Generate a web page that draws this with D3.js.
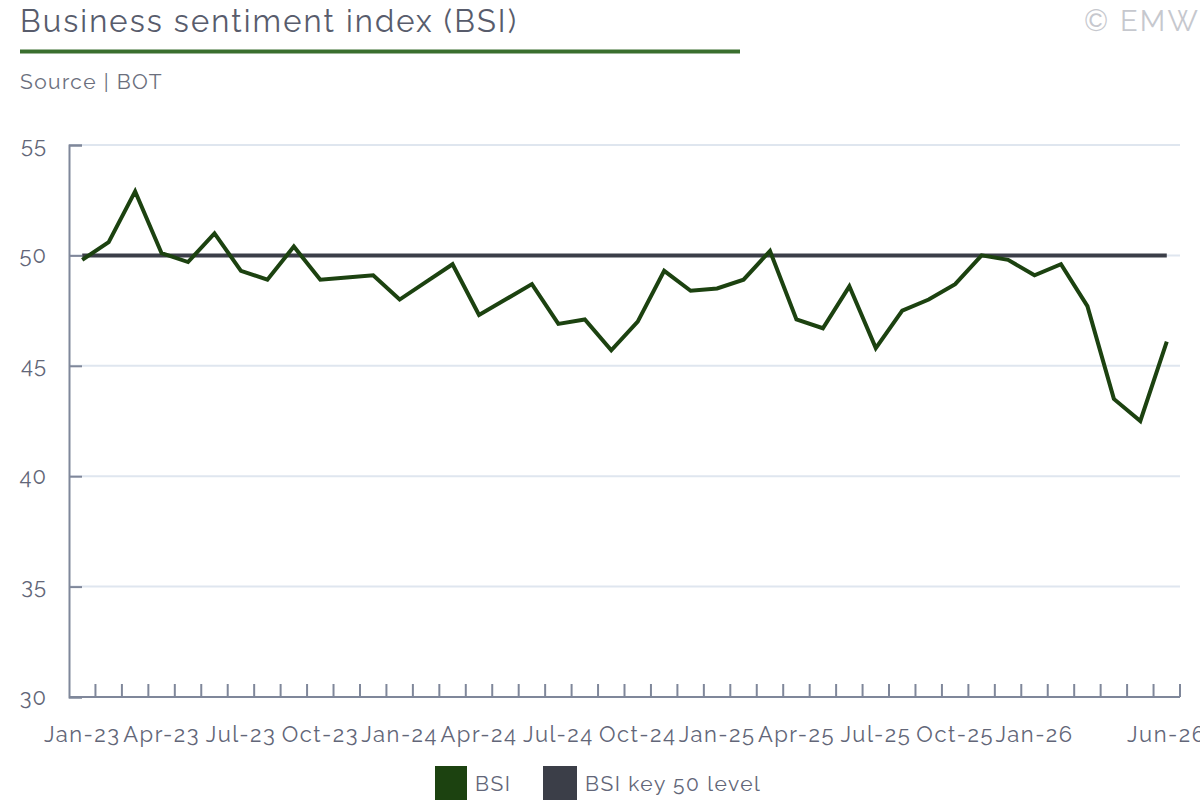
<!DOCTYPE html>
<html>
<head>
<meta charset="utf-8">
<script src="https://cdn.jsdelivr.net/npm/d3@7/dist/d3.min.js"></script>
<style>
  html, body { margin: 0; padding: 0; background: #ffffff; }
  svg { display: block; }
  text { font-family: "Raleway", "Lato", "Open Sans", sans-serif; }
</style>
</head>
<body>
<svg id="chart" width="1200" height="800"></svg>
<script>
// ---- data ----
const months = ["Jan-23","Feb-23","Mar-23","Apr-23","May-23","Jun-23","Jul-23","Aug-23","Sep-23","Oct-23","Nov-23","Dec-23",
                "Jan-24","Feb-24","Mar-24","Apr-24","May-24","Jun-24","Jul-24","Aug-24","Sep-24","Oct-24","Nov-24","Dec-24",
                "Jan-25","Feb-25","Mar-25","Apr-25","May-25","Jun-25","Jul-25","Aug-25","Sep-25","Oct-25","Nov-25","Dec-25",
                "Jan-26","Feb-26","Mar-26","Apr-26","May-26","Jun-26"];
const bsi = [49.8, 50.6, 52.9, 50.1, 49.7, 51.0, 49.3, 48.9, 50.4, 48.9, 49.0, 49.1,
             48.0, 48.8, 49.6, 47.3, 48.0, 48.7, 46.9, 47.1, 45.7, 47.0, 49.3, 48.4,
             48.5, 48.9, 50.2, 47.1, 46.7, 48.6, 45.8, 47.5, 48.0, 48.7, 50.0, 49.8,
             49.1, 49.6, 47.7, 43.5, 42.5, 46.1];
const keyLevel = [50,50,50,50,50,50,50,50,50,50,50,50,
                  50,50,50,50,50,50,50,50,50,50,50,50,
                  50,50,50,50,50,50,50,50,50,50,50,50,
                  50,50,50,50,50,50];
const xTickLabels = ["Jan-23","Apr-23","Jul-23","Oct-23","Jan-24","Apr-24","Jul-24","Oct-24","Jan-25","Apr-25","Jul-25","Oct-25","Jan-26","Jun-26"];
const yTicks = [30, 35, 40, 45, 50, 55];
const seriesNames = ["BSI", "BSI key 50 level"];

// ---- styles ----
const cGreen = "#1c4210";
const cKey = "#3b3e48";
const cAxis = "#7f879a";
const cGrid = "#dfe6ef";
const cText = "#626678";
const fontStack = '"Raleway", "Lato", "Open Sans", sans-serif';

const svg = d3.select("#chart");

const x = d3.scaleBand().domain(months).range([69, 1180]).padding(0);
const y = d3.scaleLinear().domain([30, 55]).range([697, 145]);
const cx = m => x(m) + x.bandwidth() / 2;

// title block
svg.append("text").attr("x", 20).attr("y", 32)
  .attr("font-size", 31).attr("letter-spacing", 2.1).attr("fill", "#585c6c").text("Business sentiment index (BSI)");
svg.append("rect").attr("x", 20).attr("y", 49.5).attr("width", 720).attr("height", 4).attr("fill", "#3a6f2e");
svg.append("text").attr("x", 20).attr("y", 89)
  .attr("font-size", 21).attr("letter-spacing", 1.4).attr("fill", "#6b6f7d").text("Source | BOT");
svg.append("text").attr("x", 1200).attr("y", 31).attr("text-anchor", "end")
  .attr("font-size", 29).attr("letter-spacing", 2.2).attr("fill", "#c6c8ce").text("© EMW");

// gridlines
svg.append("g").selectAll("line").data(yTicks.filter(v => v > 30)).join("line")
  .attr("x1", 69).attr("x2", 1180)
  .attr("y1", d => y(d)).attr("y2", d => y(d))
  .attr("stroke", cGrid).attr("stroke-width", 2);

// y axis
const yAxis = svg.append("g").attr("transform", "translate(69,0)")
  .call(d3.axisLeft(y).tickValues(yTicks).tickSize(-13).tickPadding(22).tickFormat(d3.format("d")));
yAxis.select(".domain").attr("stroke", cAxis).attr("stroke-width", 2);
yAxis.selectAll(".tick line").attr("stroke", cAxis).attr("stroke-width", 2);
yAxis.selectAll(".tick text").attr("fill", cText).attr("font-size", 22).attr("letter-spacing", 1)
  .attr("font-family", fontStack);

// x axis line + boundary ticks
svg.append("line").attr("x1", 69).attr("x2", 1180).attr("y1", y(30)).attr("y2", y(30))
  .attr("stroke", cAxis).attr("stroke-width", 2);
svg.append("g").selectAll("line").data(months).join("line")
  .attr("x1", d => x(d) + x.bandwidth()).attr("x2", d => x(d) + x.bandwidth())
  .attr("y1", y(30)).attr("y2", y(30) - 13)
  .attr("stroke", cAxis).attr("stroke-width", 2);
svg.append("g").selectAll("text").data(xTickLabels).join("text")
  .attr("x", d => cx(d)).attr("y", 742)
  .attr("text-anchor", "middle").attr("font-size", 22).attr("letter-spacing", 1.5).attr("fill", cText)
  .text(d => d);

// lines
const line = d3.line().x(d => cx(d.m)).y(d => y(d.v));
svg.append("path").datum(months.map((m, i) => ({ m, v: keyLevel[i] })))
  .attr("d", line).attr("fill", "none").attr("stroke", cKey).attr("stroke-width", 4);
svg.append("path").datum(months.map((m, i) => ({ m, v: bsi[i] })))
  .attr("d", line).attr("fill", "none").attr("stroke", cGreen).attr("stroke-width", 4)
  .attr("stroke-linejoin", "miter");

// legend
const legX = [435, 543];
const legColors = [cGreen, cKey];
const leg = svg.append("g").selectAll("g").data(seriesNames).join("g")
  .attr("transform", (d, i) => `translate(${legX[i]},766)`);
leg.append("rect").attr("width", (d, i) => i === 0 ? 32 : 34).attr("height", 34)
  .attr("fill", (d, i) => legColors[i]);
leg.append("text").attr("x", (d, i) => i === 0 ? 40 : 42).attr("y", 25)
  .attr("font-size", 21).attr("letter-spacing", 1.5).attr("fill", cText).text(d => d);
</script>
</body>
</html>
